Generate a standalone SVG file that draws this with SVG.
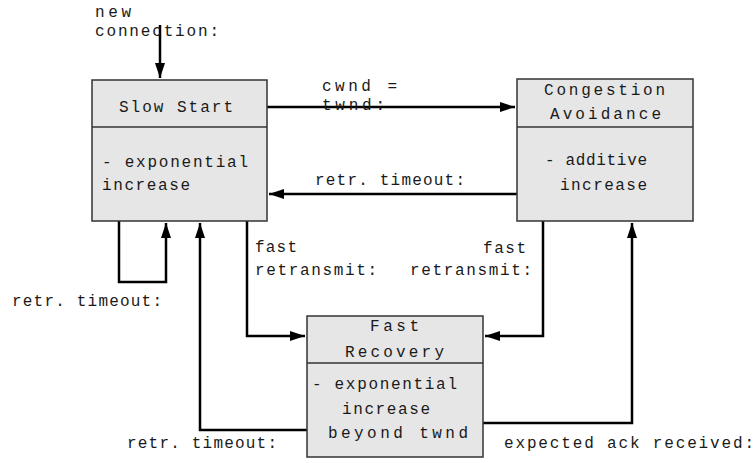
<svg xmlns="http://www.w3.org/2000/svg" width="756" height="463" viewBox="0 0 756 463">
<style>
.box{fill:#e6e6e6;stroke:#333;stroke-width:1.5}
.div{stroke:#333;stroke-width:1.5}
.t{font-family:"Liberation Mono","Courier New",monospace;font-size:16px;fill:#1a1a1a}
.c{fill:none;stroke:#000;stroke-width:2.5}
</style>
<defs>
<marker id="ah" markerUnits="userSpaceOnUse" markerWidth="16" markerHeight="12" refX="15" refY="5" orient="auto">
<path d="M0,0 L15,5 L0,10 z" fill="#000"/>
</marker>
</defs>
<rect width="756" height="463" fill="#fff"/>
<g id="connectors">
<path class="c" d="M160,25 V78" marker-end="url(#ah)"/>
<path class="c" d="M267,107 H515" marker-end="url(#ah)"/>
<path class="c" d="M517,194 H269" marker-end="url(#ah)"/>
<path class="c" d="M119,221 V282 H166 V223" marker-end="url(#ah)"/>
<path class="c" d="M247,221 V336 H305" marker-end="url(#ah)"/>
<path class="c" d="M543,221 V336 H485" marker-end="url(#ah)"/>
<path class="c" d="M307,430 H200 V223" marker-end="url(#ah)"/>
<path class="c" d="M483,423 H632 V223" marker-end="url(#ah)"/>
<text class="t" x="95" y="17" textLength="36">new</text>
<text class="t" x="95" y="36" textLength="124">connection:</text>
<text class="t" x="322" y="91" textLength="75">cwnd =</text>
<text class="t" x="322" y="110" textLength="63">twnd:</text>
<text class="t" x="315" y="185" textLength="150">retr. timeout:</text>
<text class="t" x="12" y="306" textLength="150">retr. timeout:</text>
<text class="t" x="255" y="252" textLength="42">fast</text>
<text class="t" x="255" y="275" textLength="122">retransmit:</text>
<text class="t" x="483" y="253" textLength="43">fast</text>
<text class="t" x="410" y="275" textLength="122">retransmit:</text>
<text class="t" x="127" y="448" textLength="150">retr. timeout:</text>
<text class="t" x="504" y="448" textLength="250">expected ack received:</text>
</g>
<g id="slow-start">
<rect class="box" x="92" y="80" width="175" height="141"/>
<line class="div" x1="92" y1="127" x2="267" y2="127"/>
<text class="t" x="119" y="112" textLength="114">Slow Start</text>
<text class="t" x="102" y="167" textLength="146">- exponential</text>
<text class="t" x="102" y="190" textLength="88">increase</text>
</g>
<g id="congestion-avoidance">
<rect class="box" x="517" y="79" width="176" height="142"/>
<line class="div" x1="517" y1="127" x2="693" y2="127"/>
<text class="t" x="544" y="95" textLength="121">Congestion</text>
<text class="t" x="550" y="119" textLength="111">Avoidance</text>
<text class="t" x="545" y="165" textLength="102">- additive</text>
<text class="t" x="560" y="190" textLength="87">increase</text>
</g>
<g id="fast-recovery">
<rect class="box" x="307" y="316" width="176" height="141"/>
<line class="div" x1="307" y1="363" x2="483" y2="363"/>
<text class="t" x="370" y="331" textLength="49">Fast</text>
<text class="t" x="345" y="357" textLength="99">Recovery</text>
<text class="t" x="312" y="389" textLength="145">- exponential</text>
<text class="t" x="342" y="414" textLength="88">increase</text>
<text class="t" x="328" y="438" textLength="140">beyond twnd</text>
</g>
</svg>
